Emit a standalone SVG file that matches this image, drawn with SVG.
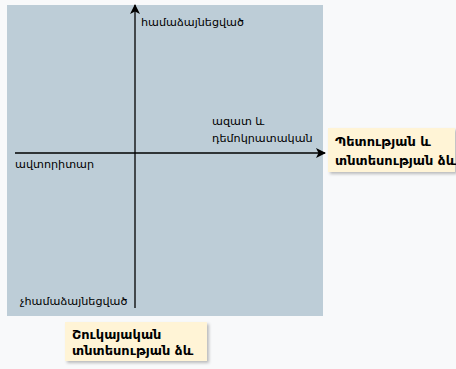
<svg xmlns="http://www.w3.org/2000/svg" width="456" height="369" viewBox="0 0 456 369">
<defs>
<marker id="ah" markerWidth="10" markerHeight="10" refX="9" refY="5" orient="auto" markerUnits="userSpaceOnUse">
<path d="M0,0 L10,5 L0,10 L2.5,5 Z" fill="#000"/>
</marker>
<filter id="sh" x="-10%" y="-10%" width="130%" height="140%">
<feDropShadow dx="2" dy="2" stdDeviation="1.5" flood-color="#000" flood-opacity="0.25"/>
</filter>
</defs>
<style>
text{font-family:"DejaVu Sans","Noto Sans",sans-serif;font-size:11.2px;fill:#000}
.b{font-weight:bold;font-size:13px}
.box{fill:#fff4d6;filter:url(#sh)}
.ax{stroke:#000;stroke-width:1.3;fill:none;marker-end:url(#ah)}
</style>
<rect width="456" height="369" fill="#f8f9fa"/>
<rect id="plane" x="7" y="5" width="316" height="311" fill="#bdcdd7"/>
<g id="connectors">
<line class="ax" x1="135" y1="308" x2="135" y2="5"/>
<line class="ax" x1="15" y1="153" x2="325" y2="153"/>
</g>
<g id="labels">
<text x="141" y="26">համաձայնեցված</text>
<text x="212" y="125">ազատ և</text>
<text x="212" y="142">դեմոկրատական</text>
<text x="15" y="168">ավտորիտար</text>
<text x="20" y="305">չհամաձայնեցված</text>
</g>
<g id="node-state">
<rect class="box" x="328" y="128" width="127" height="44"/>
<text class="b" x="335" y="146">Պետության և</text>
<text class="b" x="335" y="165">տնտեսության ձև</text>
</g>
<g id="node-market">
<rect class="box" x="65" y="322" width="142" height="39"/>
<text class="b" x="72" y="339">Շուկայական</text>
<text class="b" x="72" y="355">տնտեսության ձև</text>
</g>
</svg>
